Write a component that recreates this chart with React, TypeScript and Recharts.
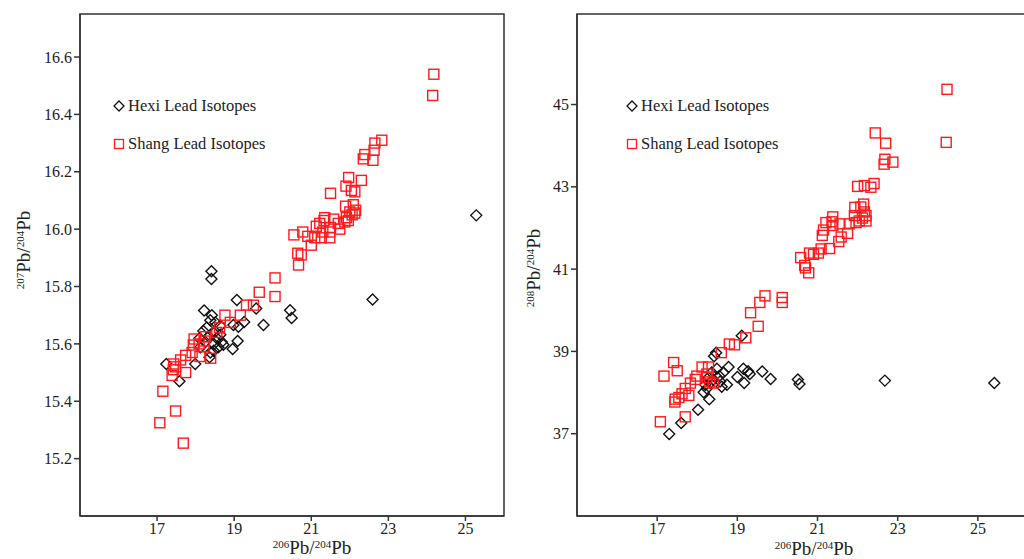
import { ReferenceArea, Scatter, ScatterChart, XAxis, YAxis } from 'recharts';

// [206Pb/204Pb, 207Pb/204Pb]
const hexi207: [number, number][] = [
  [25.28, 16.048], [22.59, 15.755], [20.45, 15.717], [20.49, 15.69], [19.76, 15.666],
  [19.57, 15.723], [19.07, 15.753], [18.41, 15.853], [18.41, 15.826], [18.22, 15.716],
  [19.26, 15.676], [19.11, 15.66], [18.98, 15.666], [19.09, 15.61], [18.96, 15.582],
  [18.72, 15.597], [18.64, 15.663], [18.42, 15.7], [18.38, 15.682], [18.29, 15.657],
  [18.47, 15.638], [18.55, 15.62], [18.34, 15.626], [18.25, 15.607], [18.47, 15.6],
  [18.59, 15.588], [18.47, 15.576], [18.38, 15.57], [18.36, 15.553], [18.12, 15.588],
  [17.99, 15.53], [17.24, 15.53], [17.58, 15.47], [18.64, 15.632], [18.68, 15.607],
  [18.2, 15.645], [18.51, 15.675], [18.1, 15.62],
];

const shang207: [number, number][] = [
  [24.18, 16.54], [24.15, 16.466], [22.83, 16.31], [22.65, 16.3], [22.39, 16.26],
  [22.35, 16.245], [22.63, 16.275], [22.6, 16.24], [22.3, 16.17], [21.97, 16.18],
  [21.9, 16.15], [22.04, 16.135], [22.13, 16.13], [21.5, 16.125], [21.89, 16.08],
  [22.09, 16.085], [22.0, 16.06], [22.13, 16.056], [22.06, 16.05], [21.91, 16.04],
  [21.96, 16.03], [22.15, 16.066], [21.87, 16.025], [21.7, 16.02], [21.74, 16.0],
  [21.58, 16.035], [21.35, 16.04], [21.33, 16.03], [21.22, 16.02], [21.13, 16.01],
  [21.5, 16.006], [21.48, 15.99], [21.3, 15.99], [21.48, 15.97], [21.26, 15.97],
  [21.09, 15.97], [20.91, 15.975], [20.78, 15.99], [20.55, 15.98], [21.0, 15.944],
  [20.65, 15.916], [20.74, 15.91], [20.67, 15.875], [20.06, 15.83], [20.06, 15.765],
  [19.65, 15.78], [19.32, 15.735], [19.5, 15.735], [19.16, 15.7], [18.76, 15.7],
  [18.9, 15.675], [18.62, 15.656], [18.55, 15.64], [18.26, 15.625], [18.23, 15.61],
  [17.96, 15.617], [18.09, 15.6], [17.94, 15.596], [18.22, 15.59], [18.11, 15.556],
  [18.39, 15.55], [17.91, 15.57], [17.74, 15.56], [17.61, 15.544], [17.43, 15.53],
  [17.48, 15.52], [17.42, 15.51], [17.74, 15.5], [17.39, 15.49], [17.15, 15.435],
  [17.48, 15.366], [17.07, 15.325], [17.68, 15.254],
];

// [206Pb/204Pb, 208Pb/204Pb]
const hexi208: [number, number][] = [
  [25.41, 38.23], [22.68, 38.29], [20.51, 38.32], [20.55, 38.21], [19.83, 38.33],
  [19.62, 38.51], [19.31, 38.45], [19.27, 38.52], [19.15, 38.58], [19.17, 38.23],
  [19.0, 38.38], [19.11, 39.38], [18.47, 38.97], [18.42, 38.88], [18.78, 38.62],
  [18.74, 38.19], [18.61, 38.14], [18.55, 38.4], [18.65, 38.49], [18.49, 38.58],
  [18.36, 38.49], [18.32, 38.23], [18.24, 38.1], [18.16, 38.01], [18.28, 38.36],
  [18.4, 38.32], [18.3, 37.84], [18.02, 37.58], [17.6, 37.26], [17.3, 36.99],
  [18.57, 38.27], [18.2, 38.19],
];

const shang208: [number, number][] = [
  [24.23, 45.37], [24.21, 44.08], [22.44, 44.31], [22.7, 44.06], [22.68, 43.67],
  [22.66, 43.55], [22.88, 43.6], [22.41, 43.08], [22.33, 42.99], [22.17, 43.03],
  [22.0, 43.01], [22.15, 42.58], [22.08, 42.51], [21.93, 42.5], [21.92, 42.3],
  [22.21, 42.3], [22.12, 42.24], [22.04, 42.17], [22.21, 42.17], [21.96, 42.13],
  [22.17, 42.39], [21.79, 42.1], [21.75, 41.87], [21.59, 41.78], [21.53, 41.67],
  [21.56, 42.1], [21.38, 42.27], [21.36, 42.15], [21.38, 42.06], [21.21, 42.13],
  [21.15, 41.95], [21.12, 41.82], [21.3, 41.5], [21.09, 41.49], [21.02, 41.39],
  [20.9, 41.36], [20.8, 41.39], [20.58, 41.28], [20.68, 41.09], [20.7, 41.03],
  [20.78, 40.91], [20.12, 40.31], [20.12, 40.19], [19.69, 40.35], [19.56, 40.19],
  [19.33, 39.94], [19.52, 39.61], [19.21, 39.33], [18.93, 39.16], [18.8, 39.18],
  [18.6, 38.97], [18.4, 38.23], [18.28, 38.62], [18.12, 38.62], [18.24, 38.45],
  [17.99, 38.4], [17.95, 38.32], [17.83, 38.23], [17.7, 38.1], [17.79, 37.93],
  [17.62, 37.97], [17.54, 37.88], [17.45, 37.84], [17.44, 37.77], [17.41, 38.73],
  [17.5, 38.53], [17.17, 38.4], [17.08, 37.29], [17.7, 37.41], [18.31, 38.26],
  [18.24, 38.36],
];

const xTicks = [17, 19, 21, 23, 25];
const yTicks207 = [15.2, 15.4, 15.6, 15.8, 16.0, 16.2, 16.4, 16.6];
const yTicks208 = [37, 39, 41, 43, 45];

const FONT = "'Liberation Serif', 'DejaVu Serif', serif";
const RED = '#ff1a1a';

const toPoints = (rows: [number, number][]) => rows.map(([x, y]) => ({ x, y }));

const Diamond = (props: any) => {
  const { cx, cy } = props;
  const r = 5.5;
  return (
    <path
      d={`M${cx},${cy - r}L${cx + r},${cy}L${cx},${cy + r}L${cx - r},${cy}Z`}
      fill='none'
      stroke='#111'
      strokeWidth={1.4}
    />
  );
};

const Square = (props: any) => {
  const { cx, cy } = props;
  return (
    <rect x={cx - 5} y={cy - 5} width={10} height={10} fill='none' stroke={RED} strokeWidth={1.4} />
  );
};

const Iso = ({ a, b }: { a: string; b: string }) => (
  <span style={{ fontFamily: FONT, color: '#222', whiteSpace: 'nowrap', lineHeight: 1 }}>
    <sup style={{ fontSize: 11 }}>{a}</sup>
    <span style={{ fontSize: 19 }}>Pb/</span>
    <sup style={{ fontSize: 11 }}>{b}</sup>
    <span style={{ fontSize: 19 }}>Pb</span>
  </span>
);

const LegendBox = ({ left, top }: { left: number; top: number }) => (
  <div style={{ position: 'absolute', left, top, fontFamily: FONT, fontSize: 16.5, color: '#222' }}>
    <div style={{ display: 'flex', alignItems: 'center', height: 20 }}>
      <svg width={14} height={14}>
        <path d='M7,2L12,7L7,12L2,7Z' fill='none' stroke='#111' strokeWidth={1.3} />
      </svg>
      <span style={{ marginLeft: 2 }}>Hexi Lead Isotopes</span>
    </div>
    <div style={{ display: 'flex', alignItems: 'center', height: 20, marginTop: 18 }}>
      <svg width={14} height={14}>
        <rect x={2.5} y={2.5} width={9} height={9} fill='none' stroke={RED} strokeWidth={1.3} />
      </svg>
      <span style={{ marginLeft: 2 }}>Shang Lead Isotopes</span>
    </div>
  </div>
);

type PanelProps = {
  width: number;
  hexi: [number, number][];
  shang: [number, number][];
  xDomain: [number, number];
  yDomain: [number, number];
  yTicks: number[];
  yWidth: number;
  right: number;
  fmt: (v: number) => string;
};

const Panel = ({ width, hexi, shang, xDomain, yDomain, yTicks, yWidth, right, fmt }: PanelProps) => {
  const tick = { fill: '#222', fontSize: 16, fontFamily: FONT };
  return (
    <ScatterChart
      width={width}
      height={559}
      margin={{ top: 14, right, bottom: 13, left: 20 }}
      style={{ fontFamily: FONT }}
    >
      <XAxis
        type='number'
        dataKey='x'
        domain={xDomain}
        ticks={xTicks}
        allowDataOverflow
        height={30}
        tickSize={5}
        tick={tick}
        stroke='#333'
        strokeWidth={1.5}
      />
      <YAxis
        type='number'
        dataKey='y'
        domain={yDomain}
        ticks={yTicks}
        allowDataOverflow
        width={yWidth}
        tickSize={6}
        tick={tick}
        tickFormatter={fmt}
        stroke='#333'
        strokeWidth={1.5}
      />
      <ReferenceArea
        x1={xDomain[0]}
        x2={xDomain[1]}
        y1={yDomain[0]}
        y2={yDomain[1]}
        fill='none'
        stroke='#333'
        strokeWidth={1.5}
        ifOverflow='visible'
      />
      <Scatter data={toPoints(hexi)} shape={Diamond} isAnimationActive={false} />
      <Scatter data={toPoints(shang)} shape={Square} isAnimationActive={false} />
    </ScatterChart>
  );
};

export default function App() {
  return (
    <div
      style={{
        position: 'absolute',
        left: 0,
        top: 0,
        width: 1024,
        height: 559,
        overflow: 'hidden',
        background: '#fff',
      }}
    >
      <div style={{ position: 'absolute', left: 0, top: 0 }}>
        <Panel
          width={520}
          hexi={hexi207}
          shang={shang207}
          xDomain={[15, 26]}
          yDomain={[15, 16.75]}
          yTicks={yTicks207}
          yWidth={60}
          right={16}
          fmt={(v) => v.toFixed(1)}
        />
      </div>
      <div style={{ position: 'absolute', left: 520, top: 0 }}>
        <Panel
          width={514}
          hexi={hexi208}
          shang={shang208}
          xDomain={[15, 26.4]}
          yDomain={[35, 47.2]}
          yTicks={yTicks208}
          yWidth={37}
          right={0}
          fmt={(v) => String(v)}
        />
      </div>

      <LegendBox left={112} top={96} />
      <LegendBox left={625} top={96} />

      <div style={{ position: 'absolute', left: 312, top: 548, transform: 'translate(-50%, -50%)' }}>
        <Iso a='206' b='204' />
      </div>
      <div style={{ position: 'absolute', left: 814, top: 549, transform: 'translate(-50%, -50%)' }}>
        <Iso a='206' b='204' />
      </div>
      <div
        style={{
          position: 'absolute',
          left: 24,
          top: 250,
          transform: 'translate(-50%, -50%) rotate(-90deg)',
        }}
      >
        <Iso a='207' b='204' />
      </div>
      <div
        style={{
          position: 'absolute',
          left: 534,
          top: 268,
          transform: 'translate(-50%, -50%) rotate(-90deg)',
        }}
      >
        <Iso a='208' b='204' />
      </div>
    </div>
  );
}
